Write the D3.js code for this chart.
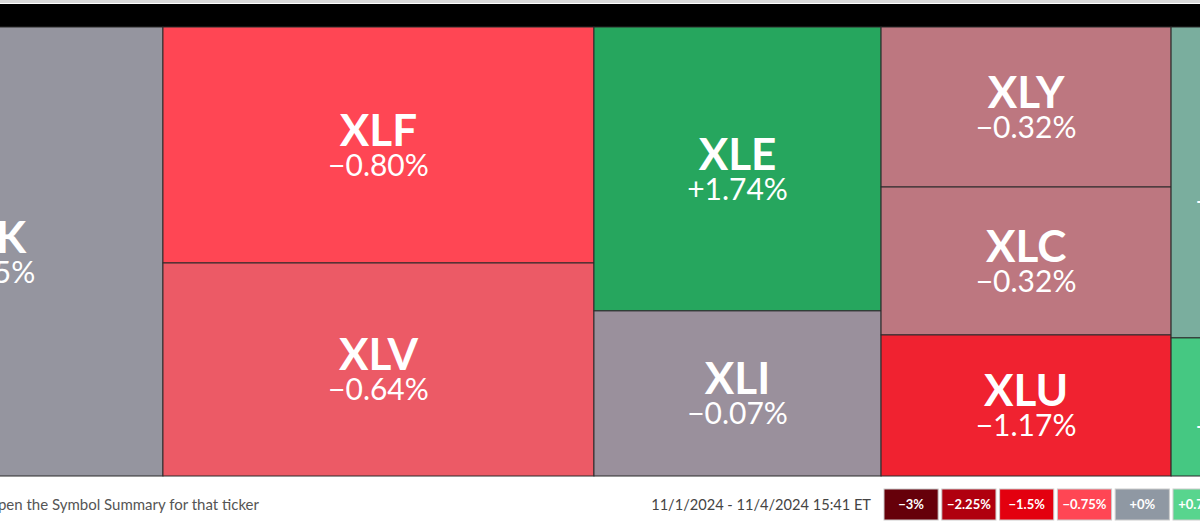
<!DOCTYPE html>
<html><head><meta charset="utf-8">
<script src="https://cdn.jsdelivr.net/npm/d3@7"></script>
<style>html,body{margin:0;padding:0;background:#fff;overflow:hidden}svg{display:block;font-family:Lato,sans-serif}</style>
</head><body><svg id="c" width="1200" height="522"></svg>
<script>
// columns of the treemap (sector ETFs), weights and daily change (%)
const columns = ["c1","c2","c3","c4","c5"];
const tickers = ["XLK","XLF","XLV","XLE","XLI","XLY","XLC","XLU","XLP","XLB"];
const tickerColumn = ["c1","c2","c2","c3","c3","c4","c4","c4","c5","c5"];
const weights = [159.8,101.7,91.8,81.5,47.4,46.4,42.9,40.9,46.6,20.7];
const changes = [-0.05,-0.80,-0.64,1.74,-0.07,-0.32,-0.32,-1.17,0.21,0.72];
const legendSteps = [-3,-2.25,-1.5,-0.75,0,0.75,1.5,2.25,3];
const legendColors = ["#66000a","#b0000f","#e3000f","#ff4654","#8f98a3","#58d58e","#22b35e","#11863f","#0a5a2a"];
const tileColors = ["#95959f","#ff4654","#ec5a66","#26a65e","#9a909c","#bd7780","#bd7780","#f02230","#7aae9e","#45c882"];
const dateText = "11/1/2024 - 11/4/2024 15:41 ET";
const hintText = "Click a ticker to open the Symbol Summary for that ticker";

const svg = d3.select("#c");
// header band
svg.append("rect").attr("x",0).attr("y",0).attr("width",1200).attr("height",3).attr("fill","#d9d9d9");
svg.append("rect").attr("x",0).attr("y",4).attr("width",1200).attr("height",23).attr("fill","#000");

const rootData = {name:"root", children: columns.map(c => ({name:c, children:
  tickers.map((t,i)=>({name:t, value:weights[i], change:changes[i], color:tileColors[i], col:tickerColumn[i]}))
    .filter(d=>d.col===c)}))};
const root = d3.hierarchy(rootData).sum(d=>d.value||0);
const W = 1514, H = 449;
d3.treemap().tile(d3.treemapSliceDice).size([W,H]).round(false)(root);

const g = svg.append("g").attr("transform","translate(-193,27)");
const leaves = g.selectAll("g.leaf").data(root.leaves()).join("g").attr("class","leaf");
leaves.append("rect")
  .attr("x",d=>d.x0).attr("y",d=>d.y0)
  .attr("width",d=>d.x1-d.x0).attr("height",d=>d.y1-d.y0)
  .attr("fill",d=>d.data.color).attr("stroke","#2a2a2a").attr("stroke-width",1);
const fmt = v => (v<0?"\u2212":"+") + Math.abs(v).toFixed(2) + "%";
leaves.append("text")
  .attr("x",d=>(d.x0+d.x1)/2).attr("y",d=>(d.y0+d.y1)/2+1)
  .attr("text-anchor","middle").attr("fill","#fff")
  .attr("font-size",44).attr("font-weight",700).text(d=>d.data.name);
leaves.append("text")
  .attr("x",d=>(d.x0+d.x1)/2).attr("y",d=>(d.y0+d.y1)/2+31)
  .attr("text-anchor","middle").attr("fill","#fff")
  .attr("font-size",30).attr("font-weight",400).text(d=>fmt(d.data.change));

// footer
svg.append("text").attr("x",259).attr("y",510).attr("text-anchor","end")
  .attr("fill","#555").attr("font-size",15).text(hintText);
svg.append("text").attr("x",871).attr("y",510).attr("text-anchor","end")
  .attr("fill","#444").attr("font-size",14.6).text(dateText);

const lx = d3.scaleBand().domain(legendSteps).range([884, 884+57.4*legendSteps.length]).paddingInner(0.063).paddingOuter(0);
const lg = svg.append("g");
legendSteps.forEach((s,i)=>{
  lg.append("rect").attr("x",lx(s)).attr("y",489).attr("width",lx.bandwidth()).attr("height",31)
    .attr("fill",legendColors[i]).attr("stroke","#ccc").attr("stroke-width",1);
  lg.append("text").attr("x",lx(s)+lx.bandwidth()/2).attr("y",509).attr("text-anchor","middle")
    .attr("fill","#fff").attr("font-size",13).attr("font-weight",700)
    .text((s<0?"\u2212":"+")+Math.abs(s)+"%");
});
</script></body></html>
